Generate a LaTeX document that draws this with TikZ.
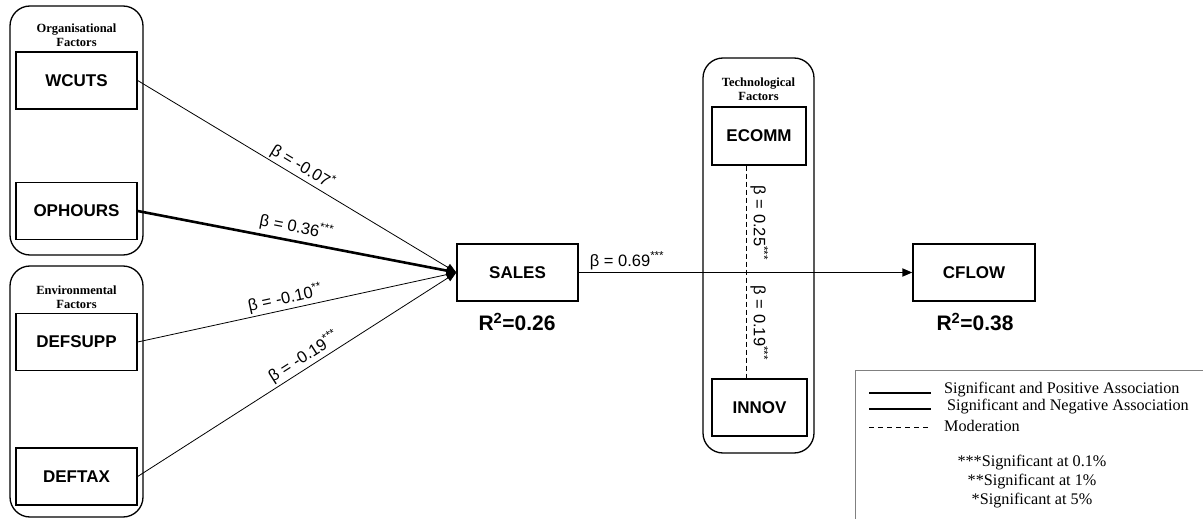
\documentclass[tikz,border=0pt]{standalone}
\usepackage{fontspec}
\setmainfont{Liberation Sans}
\newfontfamily\serifface{Liberation Serif}
\usetikzlibrary{arrows.meta}
\begin{document}
\begin{tikzpicture}[x=1pt,y=-1pt,
  var/.style={draw, line width=1.3pt, minimum width=121pt, minimum height=57pt, inner sep=0pt, font=\fontsize{17}{20}\selectfont\bfseries},
  grp/.style={draw, line width=1.3pt, rounded corners=20pt},
  grptitle/.style={align=center, font=\serifface\fontsize{12.5}{14.5}\selectfont\bfseries, inner sep=0pt},
  thin/.style={line width=0.8pt, -{Triangle[length=10pt,width=8pt]}},
  thick/.style={line width=2.6pt, -{Triangle[length=10pt,width=8pt]}},
  main/.style={line width=1.8pt, -{Triangle[length=10pt,width=8pt]}},
  moder/.style={line width=1pt, dash pattern=on 5pt off 3pt},
  beta/.style={font=\fontsize{16.5}{18}\selectfont, inner sep=1pt},
  rsq/.style={font=\fontsize{21}{24}\selectfont\bfseries},
  legtext/.style={font=\serifface\fontsize{16.2}{18}\selectfont, anchor=west, inner sep=0pt},
  sigtext/.style={font=\serifface\fontsize{16.2}{18}\selectfont, inner sep=0pt}
]
\useasboundingbox (0,0) rectangle (1203,519);
% group boxes
\draw[grp] (10,6) rectangle (143,255);
\node[grptitle] (torg) at (76.5,35) {Organisational\\Factors};
\draw[grp] (10,266) rectangle (143,517);
\node[grptitle] (tenv) at (76.5,297) {Environmental\\Factors};
\draw[grp] (703,58) rectangle (814,453);
\node[grptitle] (ttec) at (758.5,89) {Technological\\Factors};
% variables
\node[var] (wcuts) at (76.5,80.5) {WCUTS};
\node[var] (ophours) at (76.5,211) {OPHOURS};
\node[var] (defsupp) at (76.5,342) {DEFSUPP};
\node[var] (deftax) at (76.5,476.5) {DEFTAX};
\node[var] (sales) at (517.5,272.5) {SALES};
\node[var, minimum width=122pt] (cflow) at (974,272.5) {CFLOW};
\node[var, minimum width=94pt, minimum height=58pt] (ecomm) at (759,136) {ECOMM};
\node[var, minimum width=95pt] (innov) at (759.5,407.5) {INNOV};
% R squared
\node[rsq] (r1) at (517,322) {R\textsuperscript{2}=0.26};
\node[rsq] (r2) at (975,322) {R\textsuperscript{2}=0.38};
% paths
\draw[thin] (wcuts.east) -- node[beta, sloped, above=1pt, pos=0.5] {β = -0.07\textsuperscript{*}} (sales.west);
\draw[thick] (ophours.east) -- node[beta, sloped, above=3pt, pos=0.49] {β = 0.36\textsuperscript{***}} (sales.west);
\draw[thin] (defsupp.east) -- node[beta, sloped, above=1pt, pos=0.47] {β = -0.10\textsuperscript{**}} (sales.west);
\draw[thin] (deftax.east) -- node[beta, sloped, above=1pt, pos=0.54] {β = -0.19\textsuperscript{***}} (sales.west);
\draw[main] (sales.east) -- node[beta, above=1pt, pos=0.145] {β = 0.69\textsuperscript{***}} (cflow.west);
\draw[moder] ([xshift=-13pt]ecomm.south) --
  node[beta, pos=0.27, rotate=-90, anchor=south, yshift=3pt] {β = 0.25\textsuperscript{***}}
  node[beta, pos=0.74, rotate=-90, anchor=south, yshift=3pt] {β = 0.19\textsuperscript{***}}
  ([xshift=-13.5pt]innov.north);
% legend
\draw[gray, line width=1pt] (1210,370) -- (855,370) -- (855,525);
\coordinate (l1a) at (869,393); \coordinate (l1b) at (931,393);
\coordinate (l2a) at (869,409); \coordinate (l2b) at (931,409);
\coordinate (l3a) at (869,427); \coordinate (l3b) at (931,427);
\draw[line width=2.4pt] (l1a) -- (l1b);
\draw[line width=1.3pt] (l2a) -- (l2b);
\draw[line width=1pt, dash pattern=on 5pt off 4pt] (l3a) -- (l3b);
\node[legtext] (lt1) at (944,390) {Significant and Positive Association};
\node[legtext] (lt2) at (947,407) {Significant and Negative Association};
\node[legtext] (lt3) at (944,426) {Moderation};
\node[sigtext] (s1) at (1032,463) {***Significant at 0.1\%};
\node[sigtext] (s2) at (1032,482) {**Significant at 1\%};
\node[sigtext] (s3) at (1032,501) {*Significant at 5\%};
\end{tikzpicture}
\end{document}
